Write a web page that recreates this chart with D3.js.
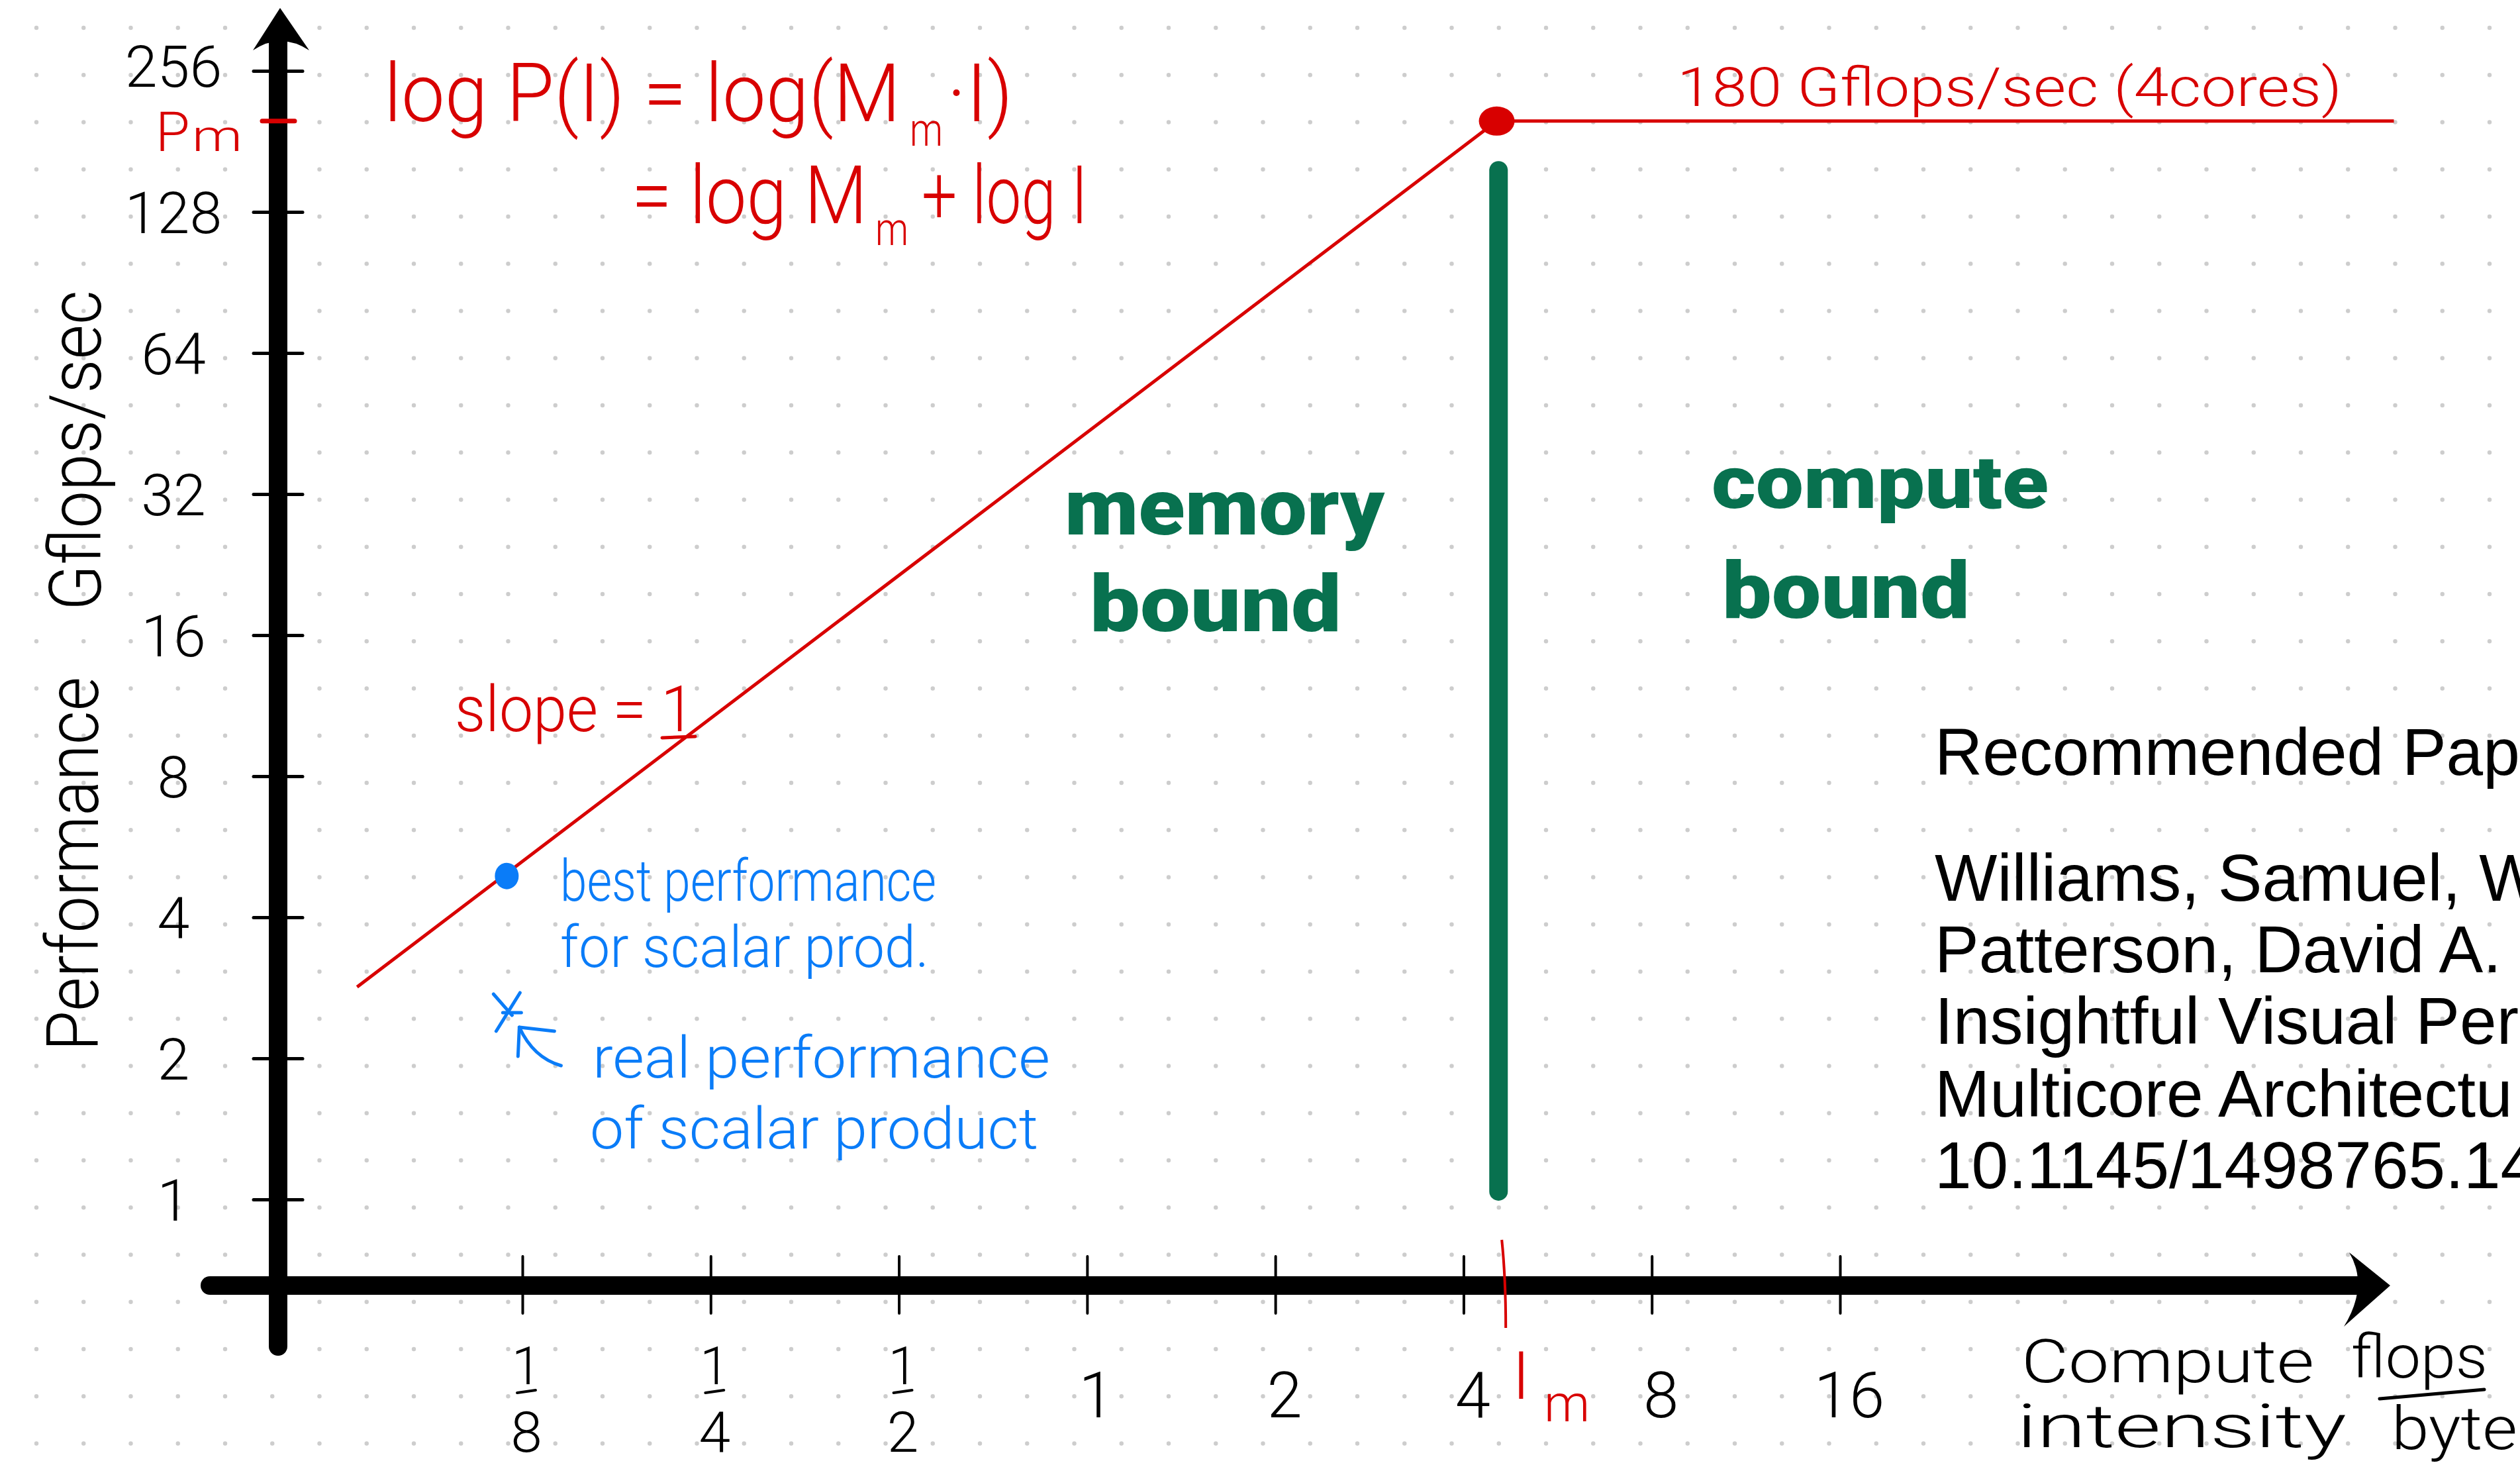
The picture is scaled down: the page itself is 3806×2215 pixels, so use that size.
<!DOCTYPE html>
<html><head><meta charset="utf-8">
<script src="https://cdn.jsdelivr.net/npm/d3@7"></script>
<style>html,body{margin:0;padding:0;background:#fff;overflow:hidden}</style>
</head><body>
<svg id="chart" width="3806" height="2215"></svg>
<script>
// ---------------- data ----------------
const yTickValues = [1, 2, 4, 8, 16, 32, 64, 128, 256];
const yTickLabels = ["1", "2", "4", "8", "16", "32", "64", "128", "256"];
const xTickValues = [1/8, 1/4, 1/2, 1, 2, 4, 8, 16];
const xTickLabels = ["1/8", "1/4", "1/2", "1", "2", "4", "8", "16"];
const rooflineI = [0.068, 4.52, 123];     // flops/byte
const rooflineP = [2.84, 200, 200];       // Gflops/sec
const boundaryI = 4.55;                   // memory / compute bound divider
const boundaryP = [1.04, 157];
const imTickValue = 4.65;                 // I_m mark on the x axis
const bestI = [0.118], bestP = [4.9];     // best performance for scalar prod.
const realI = [0.118], realP = [2.52];    // real performance of scalar product
const peakLabel = "180 Gflops/sec (4cores)";
const paperLines = ["Recommended Pap", "", "Williams, Samuel, W",
  "Patterson, David A.", "Insightful Visual Per",
  "Multicore Architectu", "10.1145/1498765.14"];

// ---------------- setup ----------------
const W = 3806, H = 2215;
const RED = "#d80000", BLUE = "#0a7cf8", GREEN = "#08714f", INK = "#000";
const HAND = "Roboto, 'Open Sans', sans-serif";
const svg = d3.select("#chart");
svg.append("rect").attr("width", W).attr("height", H).attr("fill", "#fff");

const x = d3.scaleLog().base(2).domain([1/8, 16]).range([789, 2779]);
const y = d3.scaleLog().base(2).domain([1, 256]).range([1811, 107]);

// dotted paper
const gridX = d3.range(55, W, 71.25), gridY = d3.range(42, H, 71.25);
const dots = svg.append("g").attr("fill", "#cdcdcd");
gridY.forEach(gy => gridX.forEach(gx => dots.append("circle").attr("cx", gx).attr("cy", gy).attr("r", 3.2)));

const yAxisX = 420, xAxisY = 1941;

// ---------------- axes ----------------
const yAxisG = svg.append("g").attr("transform", `translate(${yAxisX + 37},0)`)
  .call(d3.axisLeft(y).tickValues(yTickValues).tickFormat((d, i) => yTickLabels[i])
    .tickSizeInner(74).tickSizeOuter(0));
yAxisG.select(".domain").remove();
yAxisG.selectAll(".tick line").attr("stroke", INK).attr("stroke-width", 5).attr("stroke-linecap", "round");
yAxisG.selectAll(".tick text").attr("x", 262 - (yAxisX + 37)).attr("text-anchor", "middle")
  .attr("dy", "0.36em").attr("fill", INK).style("font-family", HAND).style("font-weight", 300).style("font-size", "88px");
yAxisG.selectAll(".tick text").filter(d => d === 256).attr("y", -8);

const xAxisG = svg.append("g").attr("transform", `translate(0,${xAxisY - 44})`)
  .call(d3.axisBottom(x).tickValues(xTickValues).tickFormat("").tickSizeInner(86).tickSizeOuter(0));
xAxisG.select(".domain").remove();
xAxisG.selectAll(".tick line").attr("stroke", INK).attr("stroke-width", 4).attr("stroke-linecap", "round");

svg.append("line").attr("x1", yAxisX).attr("x2", yAxisX).attr("y1", 50).attr("y2", 2033)
  .attr("stroke", INK).attr("stroke-width", 28).attr("stroke-linecap", "round");
svg.append("path").attr("fill", INK)
  .attr("d", `M${yAxisX + 3},12 L${yAxisX + 47},76 Q${yAxisX + 4},48 ${yAxisX - 38},76 Z`);
svg.append("line").attr("x1", 317).attr("x2", 3565).attr("y1", xAxisY).attr("y2", xAxisY)
  .attr("stroke", INK).attr("stroke-width", 28).attr("stroke-linecap", "round");
svg.append("path").attr("fill", INK)
  .attr("d", `M3610,${xAxisY} L3548,${xAxisY - 50} Q3578,${xAxisY} 3540,${xAxisY + 62} Z`);

const imX = x(imTickValue);
svg.append("path").attr("fill", "none").attr("stroke", RED).attr("stroke-width", 4)
  .attr("d", `M${imX - 4},1872 Q${imX + 2},1930 ${imX + 2},2005`);
svg.append("line").attr("x1", 396).attr("x2", 445).attr("y1", y(rooflineP[1])).attr("y2", y(rooflineP[1]))
  .attr("stroke", RED).attr("stroke-width", 7).attr("stroke-linecap", "round");

// ---------------- marks ----------------
const roof = rooflineI.map((d, i) => ({ I: d, P: rooflineP[i] }));
svg.append("path").datum(roof).attr("fill", "none").attr("stroke", RED).attr("stroke-width", 5)
  .attr("d", d3.line().x(d => x(d.I)).y(d => y(d.P)));
svg.append("ellipse").attr("cx", x(rooflineI[1])).attr("cy", y(rooflineP[1])).attr("rx", 27).attr("ry", 22).attr("fill", RED);

svg.append("line").attr("x1", x(boundaryI)).attr("x2", x(boundaryI))
  .attr("y1", y(boundaryP[1])).attr("y2", y(boundaryP[0]))
  .attr("stroke", GREEN).attr("stroke-width", 28).attr("stroke-linecap", "round");

bestI.forEach((d, i) => svg.append("ellipse").attr("cx", x(d)).attr("cy", y(bestP[i])).attr("rx", 18).attr("ry", 20).attr("fill", BLUE));

realI.forEach((d, i) => {
  const cx = x(d), cy = y(realP[i]);
  const g = svg.append("g").attr("fill", "none").attr("stroke", BLUE).attr("stroke-width", 5).attr("stroke-linecap", "round");
  g.append("path").attr("d", `M${cx - 20},${cy - 26} L${cx + 8},${cy + 6}`);
  g.append("path").attr("d", `M${cx + 20},${cy - 28} L${cx - 16},${cy + 30}`);
  g.append("path").attr("d", `M${cx - 6},${cy + 2} L${cx + 22},${cy + 2}`);
  g.append("path").attr("d", `M${cx + 82},${cy + 82} Q${cx + 40},${cy + 70} ${cx + 19},${cy + 24}`);
  g.append("path").attr("d", `M${cx + 19},${cy + 24} L${cx + 17},${cy + 68} M${cx + 19},${cy + 24} L${cx + 72},${cy + 30}`);
});

// ---------------- text ----------------
function hand(txt, tx, ty, size, color, len, weight) {
  const t = svg.append("text").attr("x", tx).attr("y", ty).attr("fill", color)
    .style("font-family", HAND).style("font-weight", weight || 300).style("font-size", size + "px")
    .text(txt);
  if (len) t.attr("textLength", len).attr("lengthAdjust", "spacingAndGlyphs");
  return t;
}

svg.append("text").attr("transform", "translate(148,1587) rotate(-90)").attr("fill", INK)
  .style("font-family", HAND).style("font-weight", 300).style("font-size", "110px")
  .attr("textLength", 565).attr("lengthAdjust", "spacingAndGlyphs").text("Performance");
svg.append("text").attr("transform", "translate(152,922) rotate(-90)").attr("fill", INK)
  .style("font-family", HAND).style("font-weight", 300).style("font-size", "110px")
  .attr("textLength", 484).attr("lengthAdjust", "spacingAndGlyphs").text("Gflops/sec");

// P_m label
hand("P", 235, 228, 84, RED);
hand("m", 290, 228, 66, RED, 76);

// formula (subscripts as separate texts)
hand("log P(I) = log(M", 580, 183, 122, RED, 780);
hand("m", 1374, 220, 70, RED, 50);
hand("·I)", 1430, 183, 122, RED, 100);
hand("= log M", 954, 337, 122, RED, 356);
hand("m", 1322, 370, 70, RED, 50);
hand("+ log I", 1392, 337, 122, RED, 251);

hand(peakLabel, 2533, 160, 82, RED, 1004);

hand("slope = 1", 687, 1104, 96, RED, 362);
svg.append("line").attr("x1", 1000).attr("x2", 1050).attr("y1", 1114).attr("y2", 1112)
  .attr("stroke", RED).attr("stroke-width", 5).attr("stroke-linecap", "round");

// blue notes
hand("best performance", 846, 1360, 88, BLUE, 568);
hand("for scalar prod.", 846, 1460, 88, BLUE, 557);
hand("real performance", 895, 1627, 88, BLUE, 691);
hand("of scalar product", 891, 1734, 88, BLUE, 677);

// green region labels
hand("memory", 1608, 807, 118, GREEN, 483, 900);
hand("bound", 1646, 953, 118, GREEN, 380, 900);
hand("compute", 2585, 767, 112, GREEN, 509, 900);
hand("bound", 2601, 933, 118, GREEN, 374, 900);

// x tick labels
xTickValues.forEach((v, i) => {
  const lab = xTickLabels[i], cx = x(v) + 6;
  if (lab.includes("/")) {
    const [n, dn] = lab.split("/");
    hand(n, cx, 2090, 80, INK).attr("text-anchor", "middle");
    svg.append("line").attr("x1", cx - 14).attr("x2", cx + 14).attr("y1", 2103).attr("y2", 2099)
      .attr("stroke", INK).attr("stroke-width", 4).attr("stroke-linecap", "round");
    hand(dn, cx, 2192, 86, INK).attr("text-anchor", "middle");
  } else {
    hand(lab, cx + 8, 2140, 96, INK).attr("text-anchor", "middle");
  }
});
hand("I", 2284, 2112, 100, RED);
hand("m", 2332, 2146, 78, RED);

// x axis title
hand("Compute", 3053, 2087, 90, INK, 442);
hand("intensity", 3046, 2185, 90, INK, 498);
hand("flops", 3551, 2080, 90, INK, 206);
svg.append("line").attr("x1", 3594).attr("x2", 3752).attr("y1", 2112).attr("y2", 2098)
  .attr("stroke", INK).attr("stroke-width", 5).attr("stroke-linecap", "round");
hand("byte", 3612, 2188, 90, INK, 190);

// recommended paper (cut at the right edge as in the reference)
const baselines = [1170, null, 1360, 1468, 1576, 1686, 1794];
paperLines.forEach((l, i) => {
  if (!l) return;
  svg.append("text").attr("x", 2922).attr("y", baselines[i]).attr("fill", "#000")
    .style("font-family", "'Liberation Sans', Arial, sans-serif").style("font-size", "100px").text(l);
});
</script>
</body></html>
